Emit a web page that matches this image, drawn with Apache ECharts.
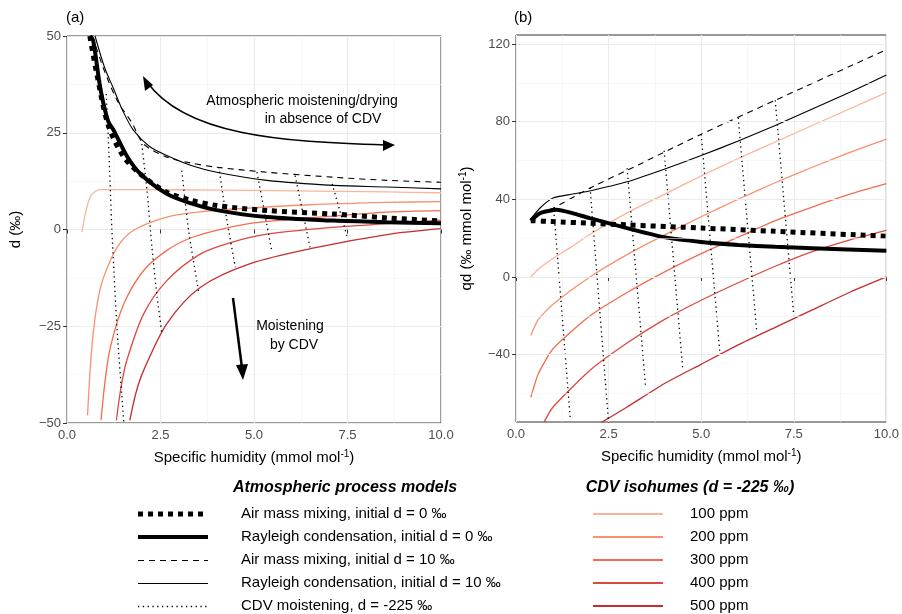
<!DOCTYPE html>
<html>
<head>
<meta charset="utf-8">
<script src="https://cdn.jsdelivr.net/npm/echarts@6/dist/echarts.min.js"></script>
<style>html,body{margin:0;padding:0;background:#fff}#c{width:902px;height:614px}</style>
</head>
<body>
<div id="c"></div>
<script>
// panel (a): [q, d]
const aMix0 = [[0.61,50],[0.8,40],[1.1,27],[1.5,19],[2.0,14],[2.67,9.6],[3.3,7.6],[4.0,6.2],[5.35,4.9],[7.13,4.0],[8.56,3.0],[10,2.2]]
const aRay0 = [[0.62,50],[0.7,48.8],[0.9,36],[1.1,28],[1.25,25.6],[1.6,19],[1.96,14.4],[2.67,9.2],[3.3,6.8],[4.0,5.0],[5.35,3.2],[7.13,2.3],[8.56,1.9],[10,1.6]]
const aMix10 = [[0.68,50],[1.0,41],[1.36,33],[1.74,27.5],[2.05,22.1],[2.67,18.7],[3.3,17.2],[4.0,16.1],[5.35,14.8],[7.13,13.5],[8.56,12.7],[10,12.2]]
const aRay10 = [[0.75,50],[1.0,42],[1.23,36.7],[1.5,30.5],[1.78,25.6],[2.2,21.5],[2.67,19.1],[3.3,16.6],[4.0,14.8],[5.35,12.7],[7.13,11.4],[8.56,11],[10,10.5]]
const aIso100 = [[0.4,-0.7],[0.5,4.5],[0.62,8.4],[0.75,9.8],[0.89,10.3],[2,10.3],[4,10.2],[6,10],[8.56,9.7],[10,9.5]]
const aIso200 = [[0.55,-48],[0.62,-36],[0.71,-26],[0.83,-18],[0.98,-12.3],[1.34,-4.6],[1.78,-0.2],[2.67,3.2],[3.5,4.5],[4.46,5.3],[6.5,6.4],[8.56,7],[10,7.2]]
const aIso300 = [[0.91,-49.3],[1.02,-39],[1.16,-30.4],[1.52,-19.2],[2.05,-10.6],[2.67,-5.4],[3.3,-2.2],[4.0,-0.2],[5,1.7],[6.24,2.8],[8.56,4.5],[10,4.9]]
const aIso400 = [[1.32,-49.3],[1.45,-40.5],[1.6,-33.8],[2.05,-21.8],[2.67,-13.2],[3.57,-6.3],[4.4,-3.3],[5.35,-1.2],[7,0.5],[8.56,1.5],[10,2.4]]
const aIso500 = [[1.68,-49.3],[1.85,-42],[2.05,-36.4],[2.67,-24.3],[3.57,-14.9],[4.9,-8.8],[6.68,-4.6],[8.56,-1.3],[10,0.2]]
const aCdv = [
  [[1.05,35],[1.12,20],[1.2,0],[1.34,-26],[1.52,-50]],
  [[2.0,22.1],[2.14,10],[2.27,-4.5],[2.41,-17.5],[2.54,-27]],
  [[3.07,15.2],[3.25,-0.2],[3.52,-16.2]],
  [[4.06,16.1],[4.26,3.2],[4.5,-9.7]],
  [[5.08,14.8],[5.28,4.5],[5.48,-5.8]],
  [[6.1,13.9],[6.3,4.6],[6.5,-4.6]],
  [[7.09,11.8],[7.29,5],[7.49,-1.9]]
]
// panel (b): [q, qd]
const bMix0 = [[0.4,29],[1,28.5],[2,27.7],[3,26.8],[5,25.2],[7,23.5],[10,21]]
const bRay0 = [[0.4,29],[0.65,32.9],[1.1,34.6],[1.5,33],[1.99,30.3],[3.15,24.4],[4,20.5],[5,18],[6,16.5],[7,15.5],[8,14.8],[10,13.5]]
const bMix10 = [[0.4,29],[0.7,33],[1.0,35.4],[1.99,45.7],[3.3,57.7],[5,73.5],[7,91],[10,117]]
const bRay10 = [[0.38,29.4],[0.65,35.5],[1.0,40.6],[1.5,42.6],[1.99,44.3],[3,49],[4,55.5],[5,62.5],[6,70],[7,78],[8,86.5],[9,95],[10,104]]
const bIso100 = [[0.4,0],[0.6,4],[1,9.5],[1.5,15.5],[2,22],[3,33],[4,42.5],[5,52],[6,61],[7,69.5],[8,78],[9,86.5],[10,95]]
const bIso200 = [[0.4,-30],[0.6,-22],[1,-14],[2,0],[3,11.5],[4,21.5],[5,31],[6,40],[7,48.5],[8,56.5],[9,64],[10,71]]
const bIso300 = [[0.4,-62],[0.6,-50],[1,-37],[2,-20],[3,-8],[4,2.5],[5,12],[6,20.5],[7,29],[8,36],[9,42.5],[10,48]]
const bIso400 = [[0.75,-75],[1,-67],[2,-48],[3,-34],[4,-22],[5,-12],[6,-3],[7,5.5],[8,13],[9,19],[10,24]]
const bIso500 = [[2.3,-75],[3,-67],[4,-55],[5,-45],[6,-35],[7,-26],[8,-17],[9,-8],[10,0]]
const bCdv = [
  [[1.02,34.5],[1.47,-74]],
  [[2.0,46],[2.5,-75]],
  [[3.0,56],[3.5,-57]],
  [[4.0,65],[4.5,-47]],
  [[5.0,73.5],[5.5,-38]],
  [[6.0,82],[6.5,-28]],
  [[7.0,91],[7.5,-20]]
]
const bMajorY = [-40,0,40,80,120]
const bMinorY = [-60,-20,20,60,100]

const names = ['Air mass mixing, initial d = 0 ‰','Rayleigh condensation, initial d = 0 ‰','Air mass mixing, initial d = 10 ‰','Rayleigh condensation, initial d = 10 ‰','CDV moistening, d = -225 ‰']
const isoNames = ['100 ppm','200 ppm','300 ppm','400 ppm','500 ppm']
const isoColors = ['#fcb499','#f9906f','#f26d50','#db4a3e','#c42d31']
const styles = [
  {color:'#000',width:5,type:[5,5]},
  {color:'#000',width:4,type:'solid'},
  {color:'#000',width:1.1,type:[6,5]},
  {color:'#000',width:1.1,type:'solid'},
  {color:'#000',width:1.3,type:[1.3,3.5]}
]
const F = 'Liberation Sans, Arial, sans-serif'

function line(name, data, i, ls, z, sm){
  return {name, type:'line', data, xAxisIndex:i, yAxisIndex:i, showSymbol:false, symbol:'none',
    smooth:sm, lineStyle:ls, itemStyle:{color:ls.color}, z:z||2, silent:true, animation:false}
}
const series = []
;[aIso100,aIso200,aIso300,aIso400,aIso500].forEach((d,k)=>series.push(line(isoNames[k],d,0,{color:isoColors[k],width:1.3},1,0.3)))
;[bIso100,bIso200,bIso300,bIso400,bIso500].forEach((d,k)=>series.push(line(isoNames[k],d,1,{color:isoColors[k],width:1.3},1,0.2)))
aCdv.forEach(d=>series.push(line(names[4],d,0,styles[4],2,0.2)))
bCdv.forEach(d=>series.push(line(names[4],d,1,styles[4],2,false)))
;[[aMix0,bMix0],[aRay0,bRay0],[aMix10,bMix10],[aRay10,bRay10]].forEach((p,k)=>{
  series.push(line(names[k],p[0],0,styles[k],3,0.3))
  series.push(line(names[k],p[1],1,styles[k],3,0.2))
})
// horizontal grid of panel (b)
series.push({type:'line',xAxisIndex:1,yAxisIndex:1,data:[],silent:true,z:0,
  markLine:{symbol:'none',silent:true,label:{show:false},animation:false,
    data:bMajorY.map(v=>({yAxis:v,lineStyle:{color:'#ebebeb',width:1.1,type:'solid'}}))
      .concat(bMinorY.map(v=>({yAxis:v,lineStyle:{color:'#f2f2f2',width:0.6,type:'solid'}})))}})

const axLab = {color:'#4d4d4d',fontSize:13,fontFamily:F}
const nameSt = {color:'#000',fontSize:15,fontFamily:F}
const supSt = {color:'#000',fontSize:10,fontFamily:F,verticalAlign:'top',padding:[0,0,8,0]}
function xAxis(i){
  return {type:'value',gridIndex:i,min:0,max:10,interval:2.5,
    axisLine:{show:false},axisTick:{length:4,lineStyle:{color:'#333'}},
    axisLabel:Object.assign({formatter:v=>v.toFixed(1),margin:6},axLab),
    splitLine:{lineStyle:{color:'#ebebeb',width:1.1}},
    minorTick:{show:false,splitNumber:2},minorSplitLine:{show:true,lineStyle:{color:'#f2f2f2',width:0.6}},
    name:'{a|Specific humidity (mmol mol}{s|-1}{a|)}',nameLocation:'middle',nameGap:26,
    nameTextStyle:{rich:{a:nameSt,s:supSt}}}
}

// legend drawn as graphics
const legendG = []
names.forEach((n,k)=>{
  const s = styles[k], y = 514 + 23*k + (s.width < 2 ? 0.5 : 0)
  legendG.push({type:'line',shape:{x1:138,y1:y,x2:208,y2:y},style:{stroke:'#000',lineWidth:s.width,lineDash:s.type==='solid'?null:s.type}})
  legendG.push({type:'text',x:241,y:514 + 23*k,style:{text:n,fontSize:15,fontFamily:F,fill:'#000',verticalAlign:'middle'}})
})
isoNames.forEach((n,k)=>{
  const y = 514 + 23*k
  legendG.push({type:'line',shape:{x1:593,y1:y,x2:663,y2:y},style:{stroke:isoColors[k],lineWidth:2}})
  legendG.push({type:'text',x:690,y:y,style:{text:n,fontSize:15,fontFamily:F,fill:'#000',verticalAlign:'middle'}})
})

const option = {
  animation:false,
  backgroundColor:'#fff',
  grid:[
    {left:67,top:36,width:374,height:387,show:true,borderColor:'#333',borderWidth:1,backgroundColor:'#fff'},
    {left:516,top:35,width:373,height:387,show:true,borderColor:'#333',borderWidth:1,backgroundColor:'#fff'}
  ],
  xAxis:[xAxis(0),xAxis(1)],
  yAxis:[
    {type:'value',gridIndex:0,min:-50,max:50,interval:25,
      axisLine:{show:false},axisTick:{length:4,lineStyle:{color:'#333'}},
      axisLabel:Object.assign({formatter:v=>String(v).replace('-','\u2212'),margin:6},axLab),
      splitLine:{lineStyle:{color:'#ebebeb',width:1.1}},
      minorTick:{show:false,splitNumber:2},minorSplitLine:{show:true,lineStyle:{color:'#f2f2f2',width:0.6}},
      name:'d (‰)',nameLocation:'middle',nameGap:44,nameTextStyle:nameSt},
    {type:'value',gridIndex:1,min:-74.7,max:124.6,
      axisLine:{show:false},
      axisTick:{length:4,lineStyle:{color:'#333'},customValues:bMajorY},
      axisLabel:Object.assign({formatter:v=>String(v).replace('-','\u2212'),margin:6,customValues:bMajorY},axLab),
      splitLine:{show:false},
      name:'{a|qd (‰ mmol mol}{s|-1}{a|)}',nameLocation:'middle',nameGap:40,
      nameTextStyle:{rich:{a:nameSt,s:supSt}}}
  ],
  graphic:[
    {type:'text',left:66,top:10,style:{text:'(a)',fontSize:15,fontFamily:F,fill:'#000'}},
    {type:'text',left:514,top:10,style:{text:'(b)',fontSize:15,fontFamily:F,fill:'#000'}},
    {type:'text',x:345,y:488,style:{text:'Atmospheric process models',fontSize:16,fontWeight:'bold',fontStyle:'italic',fontFamily:F,fill:'#000',align:'center',verticalAlign:'middle'}},
    {type:'text',x:690,y:488,style:{text:'CDV isohumes (d = -225 ‰)',fontSize:16,fontWeight:'bold',fontStyle:'italic',fontFamily:F,fill:'#000',align:'center',verticalAlign:'middle'}},
    {type:'text',x:302,y:101,z:10,style:{text:'Atmospheric moistening/drying',fontSize:14,fontFamily:F,fill:'#000',align:'center',verticalAlign:'middle'}},
    {type:'text',x:323,y:119,z:10,style:{text:'in absence of CDV',fontSize:14,fontFamily:F,fill:'#000',align:'center',verticalAlign:'middle'}},
    {type:'text',x:290,y:326,z:10,style:{text:'Moistening',fontSize:14,fontFamily:F,fill:'#000',align:'center',verticalAlign:'middle'}},
    {type:'text',x:294,y:345,z:10,style:{text:'by CDV',fontSize:14,fontFamily:F,fill:'#000',align:'center',verticalAlign:'middle'}},
    {type:'bezierCurve',z:10,shape:{x1:147,y1:82,cpx1:185,cpy1:135,cpx2:280,cpy2:142,x2:386,y2:145},style:{stroke:'#000',lineWidth:1.5,fill:null}},
    {type:'polygon',z:10,shape:{points:[[143,76],[145,91],[153,85]]},style:{fill:'#000'}},
    {type:'polygon',z:10,shape:{points:[[395,145],[383,140],[383,151]]},style:{fill:'#000'}},
    {type:'line',z:10,shape:{x1:233,y1:298,x2:242,y2:368},style:{stroke:'#000',lineWidth:2.5}},
    {type:'polygon',z:10,shape:{points:[[243,380],[236,365],[248,364]]},style:{fill:'#000'}}
  ].concat(legendG),
  series
}
const chart = echarts.init(document.getElementById('c'))
chart.setOption(option)
</script>
</body>
</html>
